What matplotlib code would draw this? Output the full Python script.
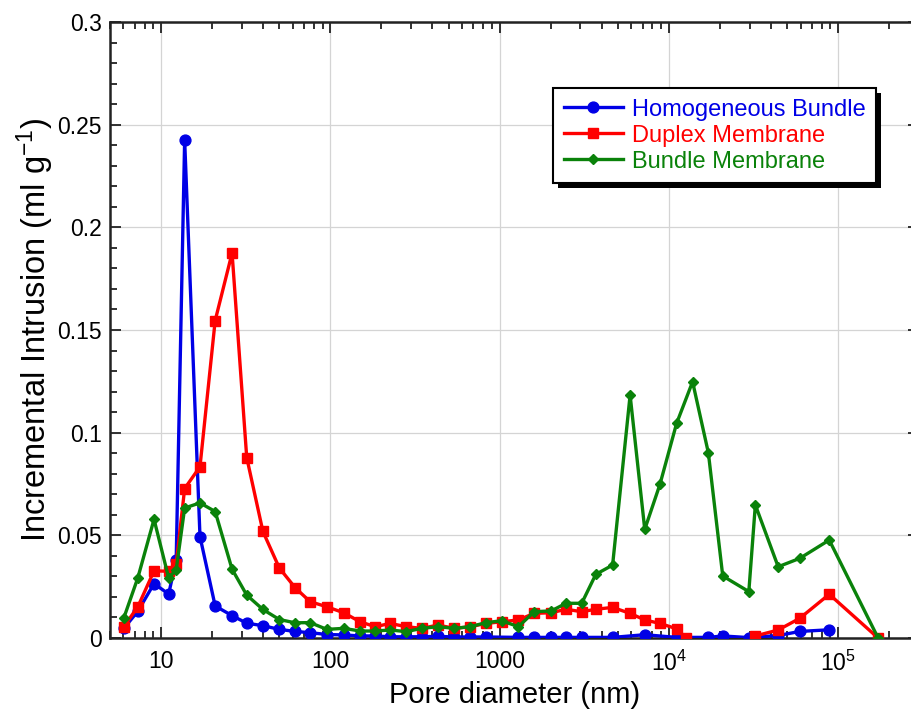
import numpy as np
import matplotlib
matplotlib.use("Agg")
import matplotlib.pyplot as plt
from matplotlib.patches import Rectangle
from matplotlib.transforms import IdentityTransform
from matplotlib.ticker import MultipleLocator, LogLocator, NullFormatter

plt.rcParams['font.family'] = ['Liberation Sans', 'DejaVu Sans']
plt.rcParams['mathtext.fontset'] = 'custom'
plt.rcParams['mathtext.rm'] = 'Liberation Sans'
plt.rcParams['mathtext.it'] = 'Liberation Sans'

# ---- data ----
blue_x = [6.03, 7.3, 9.1, 11.1, 12.3, 13.8, 17.0, 20.9, 26.3, 32.1, 40, 50, 62, 76, 95.5,
          120, 150, 184, 226, 281, 347, 432, 541, 670, 832, 1291, 1600, 2020, 2467, 3055,
          4650, 7200, 11100, 17100, 20800, 29650, 44200, 59300, 88500]
blue_y = [0.0047, 0.013, 0.0265, 0.0214, 0.038, 0.2425, 0.0494, 0.0156, 0.0109, 0.0072,
          0.006, 0.0042, 0.0032, 0.0026, 0.0017, 0.0015, 0.001, 0.001, 0.0006, 0.0006,
          0.0006, 0.0008, 0.0005, 0.0005, 0.0005, 0.0003, 0.0003, 0.0003, 0.0003, 0.0003,
          0.0003, 0.0016, 0.0003, 0.0003, 0.001, 0.0002, 0.0012, 0.0032, 0.0040]

red_x = [6.03, 7.3, 9.1, 11.1, 12.3, 13.8, 17.0, 20.9, 26.3, 32.1, 40, 50, 62, 76, 95.5,
         120, 150, 184, 226, 281, 347, 432, 541, 670, 832, 1030, 1291, 1600, 2020, 2467,
         3055, 3700, 4650, 5900, 7200, 8850, 11100, 12600, 20000,
         32400, 44200, 59300, 88500, 172000]
red_y = [0.0055, 0.0152, 0.0327, 0.0325, 0.036, 0.0728, 0.0834, 0.1546, 0.1875, 0.0879,
         0.0519, 0.0341, 0.0245, 0.0177, 0.0152, 0.0123, 0.0079, 0.0055, 0.0071, 0.0055,
         0.0047, 0.0063, 0.0047, 0.0055, 0.0071, 0.0079, 0.0088, 0.012, 0.0123, 0.014,
         0.0128, 0.014, 0.0149, 0.012, 0.0088, 0.0071, 0.0045, 0.0, np.nan,
         0.001, 0.0039, 0.0096, 0.0213, 0.0]

green_x = [6.03, 7.3, 9.1, 11.1, 12.3, 13.8, 17.0, 20.9, 26.3, 32.1, 40, 50, 62, 76, 95.5,
           120, 150, 184, 226, 281, 347, 432, 541, 670, 832, 1030, 1291, 1600, 2020, 2467,
           3055, 3700, 4650, 5900, 7200, 8850, 11100, 13800, 17100, 20800, 29650, 32400,
           44200, 59300, 88500, 172000]
green_y = [0.0097, 0.0293, 0.0578, 0.0293, 0.0332, 0.0633, 0.0658, 0.0616, 0.0335, 0.0209,
           0.0139, 0.009, 0.0074, 0.0075, 0.0042, 0.0047, 0.0034, 0.0034, 0.0039, 0.0031,
           0.0047, 0.0055, 0.0047, 0.0055, 0.0075, 0.0084, 0.0055, 0.0128, 0.0132, 0.0169,
           0.0169, 0.031, 0.0355, 0.1183, 0.0529, 0.0748, 0.1045, 0.1248, 0.0902, 0.0302,
           0.0226, 0.0648, 0.0347, 0.0388, 0.0477, 0.0]

labels = ['Homogeneous Bundle', 'Duplex Membrane', 'Bundle Membrane']
colors = ['#0000e6', '#ff0000', '#0a820a']

x_ticks = [10, 100, 1000, 1e4, 1e5]
x_ticklabels = ['10', '100', '1000', r'$10^4$', r'$10^5$']
y_ticks = [0, 0.05, 0.1, 0.15, 0.2, 0.25, 0.3]
y_ticklabels = ['0', '0.05', '0.1', '0.15', '0.2', '0.25', '0.3']

# ---- figure ----
fig = plt.figure(figsize=(9.12, 7.13), dpi=100)
ax = fig.add_axes([110/912, 75/713, 809/912, 616/713])

ax.plot(blue_x, blue_y, '-o', color=colors[0], lw=2.4, ms=7.8, label=labels[0], zorder=3)
ax.plot(red_x, red_y, '-s', color=colors[1], lw=2.4, ms=7.8, label=labels[1], zorder=3)
ax.plot(green_x, green_y, '-D', color=colors[2], lw=2.4, ms=5.2, label=labels[2], zorder=3)

ax.set_xscale('log')
ax.set_xlim(5, 3e5)
ax.set_ylim(0, 0.3)

ax.set_xticks(x_ticks)
ax.set_xticklabels(x_ticklabels)
ax.xaxis.set_minor_locator(LogLocator(base=10, subs=np.arange(2, 10), numticks=20))
ax.xaxis.set_minor_formatter(NullFormatter())
ax.set_yticks(y_ticks)
ax.set_yticklabels(y_ticklabels)
ax.yaxis.set_minor_locator(MultipleLocator(0.01))

ax.tick_params(which='both', direction='in', top=True, right=True, width=1.3, color='#222222')
ax.tick_params(which='major', length=8, labelsize=16.5)
ax.tick_params(which='minor', length=5)
ax.tick_params(axis='x', which='major', pad=9)
ax.tick_params(axis='y', which='major', pad=6)

for s in ax.spines.values():
    s.set_linewidth(1.8)
    s.set_color('#222222')

ax.grid(True, which='major', color='#d4d4d4', lw=0.9)
ax.set_axisbelow(True)

ax.set_xlabel('Pore diameter (nm)', fontsize=21, labelpad=4)
ax.set_ylabel(r'Incremental Intrusion (ml g$^{-1}$)', fontsize=23.5, labelpad=1)

leg = ax.legend(loc='upper left', bbox_to_anchor=(0.5476, 0.893), borderaxespad=0,
                fontsize=17, frameon=True, fancybox=False, edgecolor='black',
                framealpha=1, handlelength=2.5, handletextpad=0.4, labelspacing=0.17,
                borderpad=0.45, labelcolor='linecolor')
leg.get_frame().set_linewidth(1.5)
leg.set_zorder(6)

fig.canvas.draw()
bb = leg.get_window_extent()
off = 5
shadow = Rectangle((bb.x0 + off, bb.y0 - off), bb.width, bb.height,
                   transform=IdentityTransform(), facecolor='black', edgecolor='none',
                   zorder=5.5, clip_on=False)
ax.add_artist(shadow)

fig.savefig('out.png', dpi=100)
